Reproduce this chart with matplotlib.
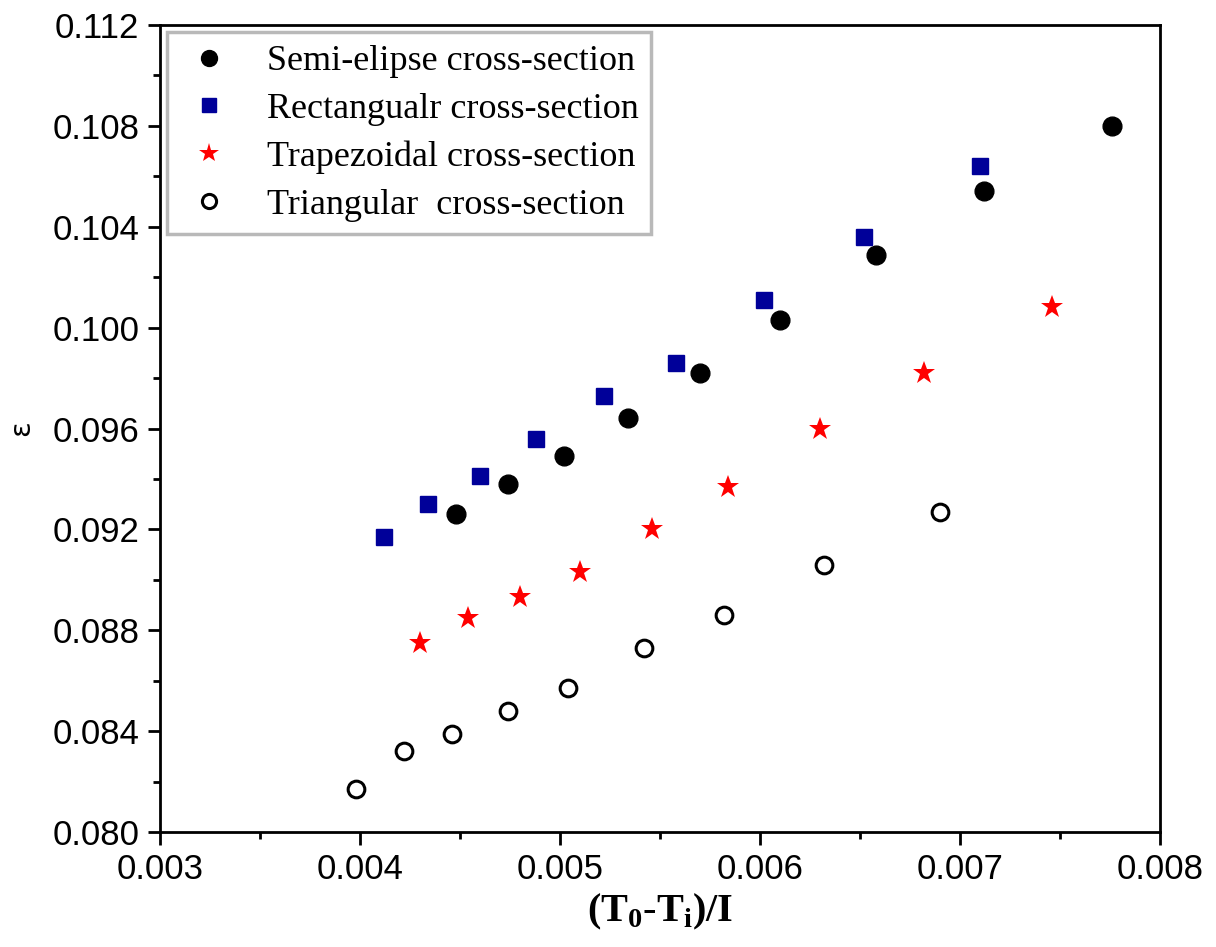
import matplotlib.pyplot as plt
from matplotlib.ticker import MultipleLocator, FormatStrFormatter

# (T0 - Ti)/I against epsilon for four channel cross-sections
semi_x = [0.00448, 0.00474, 0.00502, 0.00534, 0.00570, 0.00610, 0.00658, 0.00712, 0.00776]
semi_y = [0.0926, 0.0938, 0.0949, 0.0964, 0.0982, 0.1003, 0.1029, 0.1054, 0.1080]

rect_x = [0.00412, 0.00434, 0.00460, 0.00488, 0.00522, 0.00558, 0.00602, 0.00652, 0.00710]
rect_y = [0.0917, 0.0930, 0.0941, 0.0956, 0.0973, 0.0986, 0.1011, 0.1036, 0.1064]

trap_x = [0.00430, 0.00454, 0.00480, 0.00510, 0.00546, 0.00584, 0.00630, 0.00682, 0.00746]
trap_y = [0.0875, 0.0885, 0.0893, 0.0903, 0.0920, 0.0937, 0.0960, 0.0982, 0.1008]

tri_x = [0.00398, 0.00422, 0.00446, 0.00474, 0.00504, 0.00542, 0.00582, 0.00632, 0.00690]
tri_y = [0.0817, 0.0832, 0.0839, 0.0848, 0.0857, 0.0873, 0.0886, 0.0906, 0.0927]

labels = ['Semi-elipse cross-section', 'Rectangualr cross-section',
          'Trapezoidal cross-section', 'Triangular  cross-section']

plt.rcParams['mathtext.fontset'] = 'custom'
plt.rcParams['mathtext.rm'] = 'Liberation Serif:bold'

fig = plt.figure(figsize=(12.16, 9.47), dpi=100)
ax = fig.add_axes([0.1316, 0.1214, 0.8224, 0.8522])

ax.plot(semi_x, semi_y, 'o', color='black', markersize=13.5, label=labels[0])
ax.plot(rect_x, rect_y, 's', color='#000099', markersize=11.5, label=labels[1])
ax.plot(trap_x, trap_y, '*', color='red', markersize=17, markeredgewidth=0, label=labels[2])
ax.plot(tri_x, tri_y, 'o', markerfacecolor='white', markeredgecolor='black',
        markeredgewidth=2.2, markersize=12, label=labels[3])

ax.set_xlim(0.003, 0.008)
ax.set_ylim(0.080, 0.112)
ax.xaxis.set_major_locator(MultipleLocator(0.001))
ax.xaxis.set_minor_locator(MultipleLocator(0.0005))
ax.yaxis.set_major_locator(MultipleLocator(0.004))
ax.yaxis.set_minor_locator(MultipleLocator(0.002))
ax.xaxis.set_major_formatter(FormatStrFormatter('%.3f'))
ax.yaxis.set_major_formatter(FormatStrFormatter('%.3f'))

for spine in ax.spines.values():
    spine.set_linewidth(2)

ax.tick_params(axis='both', which='major', direction='out', length=9, width=2,
               labelsize=25, pad=6)
ax.tick_params(axis='both', which='minor', direction='out', length=5, width=2)
for lab in ax.get_xticklabels() + ax.get_yticklabels():
    lab.set_family('Liberation Sans')

ax.set_xlabel(r'(T$_{\mathregular{0}}$-T$_{\mathregular{i}}$)/I',
              fontsize=29, family='Liberation Serif', weight='bold', labelpad=4)
ax.set_ylabel('ε', fontsize=21, family='DejaVu Sans', labelpad=12)

leg = ax.legend(loc='upper left', prop={'family': 'Liberation Serif', 'size': 26},
                frameon=True, fancybox=False, edgecolor='#a8a8a8',
                borderaxespad=0.2, labelspacing=0.4, handletextpad=0.8,
                handlelength=1.6, markerscale=0.85, borderpad=0.35)
leg.get_frame().set_linewidth(2.5)

fig.savefig('out.png', dpi=100)
